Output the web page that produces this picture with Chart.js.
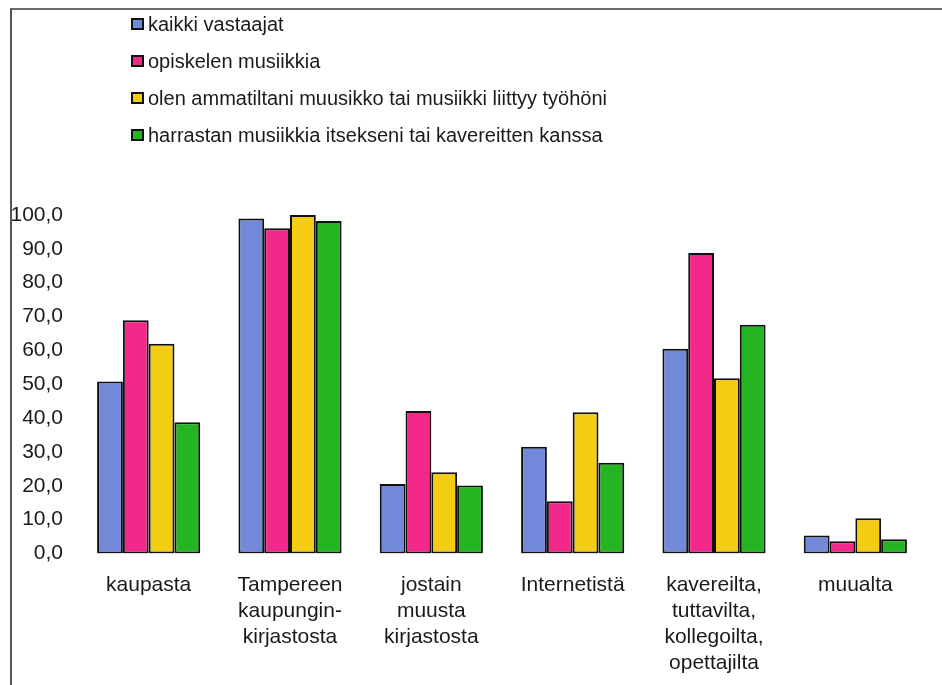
<!DOCTYPE html>
<html>
<head>
<meta charset="utf-8">
<script src="https://cdn.jsdelivr.net/npm/chart.js@4"></script>
<style>
    html, body { margin: 0; padding: 0; background: #fff; }
    #wrap { position: relative; width: 942px; height: 685px; overflow: hidden; }
    #frame {
        position: absolute; left: 10px; top: 8px; right: -10px; bottom: -10px;
        border-left: 2px solid #555; border-top: 2px solid #6a6a6a;
        pointer-events: none;
    }
    canvas { position: absolute; left: 0; top: 0; }
</style>
</head>
<body>
<div id="wrap">
    <canvas id="chart" width="942" height="685"></canvas>
    <div id="frame"></div>
</div>
<script>
const categories = [
    ['kaupasta'],
    ['Tampereen', 'kaupungin-', 'kirjastosta'],
    ['jostain', 'muusta', 'kirjastosta'],
    ['Internetistä'],
    ['kavereilta,', 'tuttavilta,', 'kollegoilta,', 'opettajilta'],
    ['muualta']
];
const seriesNames = [
    'kaikki vastaajat',
    'opiskelen musiikkia',
    'olen ammatiltani muusikko tai musiikki liittyy työhöni',
    'harrastan musiikkia itsekseni tai kavereitten kanssa'
];
const kaikki = [50.8, 99.0, 20.5, 31.5, 60.5, 5.3];
const opiskelen = [68.9, 96.1, 42.1, 15.4, 88.8, 3.6];
const ammatti = [62.0, 100.0, 24.0, 41.7, 51.8, 10.4];
const harrastan = [38.8, 98.2, 20.1, 26.8, 67.6, 4.2];
const colors = ['#7189d8', '#f2288a', '#f4cc14', '#25b422'];
const yTicks = { min: 0, max: 100, step: 10 };

const font = '"Liberation Sans", Arial, sans-serif';

// simple vertical legend in the top-left, like the original picture
const listLegend = {
    id: 'listLegend',
    afterDraw(chart) {
        const ctx = chart.ctx;
        ctx.save();
        ctx.font = `20px ${font}`;
        ctx.textBaseline = 'middle';
        chart.data.datasets.forEach((ds, i) => {
            const y = 24 + i * 37;
            ctx.fillStyle = ds.backgroundColor;
            ctx.strokeStyle = '#111';
            ctx.lineWidth = 2;
            ctx.fillRect(132, y - 5, 11, 10);
            ctx.strokeRect(132, y - 5, 11, 10);
            ctx.fillStyle = '#1a1a1a';
            ctx.fillText(ds.label, 148, y + 1);
        });
        ctx.restore();
    }
};

const ctx = document.getElementById('chart').getContext('2d');
new Chart(ctx, {
    type: 'bar',
    data: {
        labels: categories,
        datasets: [kaikki, opiskelen, ammatti, harrastan].map((values, i) => ({
            label: seriesNames[i],
            data: values,
            backgroundColor: colors[i],
            borderColor: '#111',
            borderWidth: 2,
            borderSkipped: false,
            barPercentage: 1,
            categoryPercentage: 0.73
        }))
    },
    options: {
        responsive: false,
        animation: false,
        layout: { padding: { top: 215, right: 16, left: 0, bottom: 0 } },
        plugins: {
            legend: { display: false },
            tooltip: { enabled: false }
        },
        scales: {
            x: {
                grid: { display: false, drawTicks: false },
                border: { display: false },
                ticks: {
                    color: '#1a1a1a',
                    padding: 19,
                    maxRotation: 0,
                    autoSkip: false,
                    font: { family: font, size: 21, lineHeight: 1.24 }
                },
                afterFit(scale) { scale.height = 131.5; }
            },
            y: {
                min: yTicks.min,
                max: yTicks.max,
                grid: { display: false, drawTicks: false },
                border: { display: false },
                ticks: {
                    stepSize: yTicks.step,
                    color: '#1a1a1a',
                    padding: 15,
                    font: { family: font, size: 21 },
                    callback: v => v.toFixed(1).replace('.', ',')
                },
                afterFit(scale) { scale.width = 78; }
            }
        }
    },
    plugins: [listLegend]
});
</script>
</body>
</html>
